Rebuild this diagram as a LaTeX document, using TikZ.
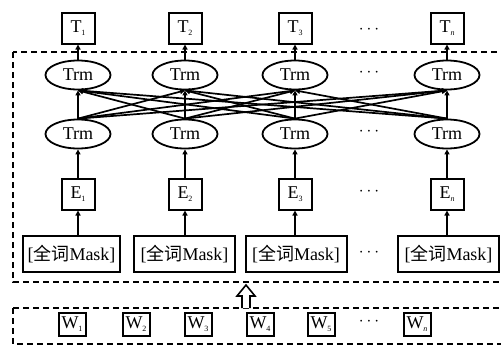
\documentclass[tikz,border=0pt]{standalone}
\usepackage{fontspec}
\setmainfont{Liberation Serif}
\newfontfamily\cjk{Noto Sans CJK SC}
\usetikzlibrary{shapes.geometric,arrows.meta}
\newcommand{\sub}[1]{\raisebox{-3pt}{\fontsize{8}{8}\selectfont #1}}
\begin{document}
\begin{tikzpicture}[x=1pt,y=-1pt,
  every node/.style={font=\fontsize{18}{21}\selectfont},
  sqbox/.style={draw,line width=2pt,minimum width=33pt,minimum height=31pt,inner sep=0pt},
  wbox/.style={draw,line width=2pt,minimum width=27pt,minimum height=23pt,inner sep=0pt},
  mbox/.style={draw,line width=2pt,minimum width=101pt,minimum height=36pt,inner sep=0pt},
  trm/.style={draw,ellipse,line width=1.8pt,minimum width=65pt,minimum height=29pt,inner sep=0pt},
  arr/.style={line width=1.7pt,-{Triangle[length=5pt,width=5pt]}},
  dbox/.style={draw,line width=1.8pt,dash pattern=on 6pt off 4pt},
  dots/.style={font=\fontsize{18}{21}\selectfont}]
\clip (0,0) rectangle (501,346);
% dashed frames
\draw[dbox] (13,52) rectangle (515,282);
\draw[dbox] (13,308) rectangle (515,344);
% columns
\foreach \i/\x/\s in {1/78/1,2/185/2,3/295/3,4/447/\textit{n}}{
  \node[sqbox] (T\i) at (\x,28) {T\sub{\s}};
  \node[trm] (U\i) at (\x,75) {Trm};
  \node[trm] (L\i) at (\x,134) {Trm};
  \node[sqbox] (E\i) at (\x,194) {E\sub{\s}};
}
\node[mbox,minimum width=97pt] (M1) at (71.5,254) {[{\cjk 全词}Mask]};
\node[mbox] (M2) at (184.5,254) {[{\cjk 全词}Mask]};
\node[mbox] (M3) at (296,254) {[{\cjk 全词}Mask]};
\node[mbox] (M4) at (448.5,254) {[{\cjk 全词}Mask]};
% dots
\foreach \y [count=\k] in {30,73,132,192,253,322}{
  \node[dots] (D\k) at (369,\y) {$\cdots$};
}
% W row
\foreach \i/\x/\s in {1/72/1,2/136/2,3/198/3,4/260/4,5/321/5,6/417/\textit{n}}{
  \node[wbox] (W\i) at (\x,324) {W\sub{\s}};
}
% arrows
\foreach \i in {1,2,3,4}{
  \draw[arr] (U\i) -- (T\i);
  \draw[arr] (E\i) -- (L\i);
  \draw[arr] (M\i.north -| E\i) -- (E\i);
  \foreach \j in {1,2,3,4}{
    \draw[arr] (L\i.north) -- (U\j.south);
  }
}
% hollow arrow
\coordinate (HA) at (246,308);
\draw[line width=1.6pt,fill=white] (HA) ++(-4,0) -- ++(0,-12) -- ++(-5,0) -- ++(9,-11) -- ++(9,11) -- ++(-5,0) -- ++(0,12);
\end{tikzpicture}
\end{document}
